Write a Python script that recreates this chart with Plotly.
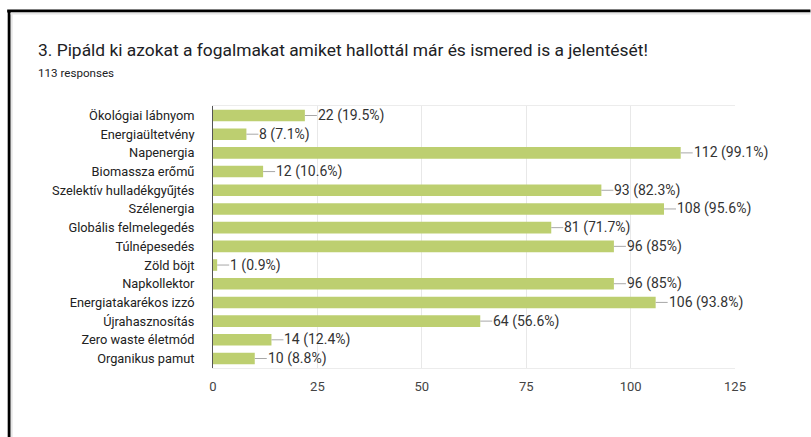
import plotly.graph_objects as go

categories = ["Ökológiai lábnyom", "Energiaültetvény", "Napenergia", "Biomassza erőmű",
              "Szelektív hulladékgyűjtés", "Szélenergia", "Globális felmelegedés", "Túlnépesedés",
              "Zöld böjt", "Napkollektor", "Energiatakarékos izzó", "Újrahasznosítás",
              "Zero waste életmód", "Organikus pamut"]
counts = [22, 8, 112, 12, 93, 108, 81, 96, 1, 96, 106, 64, 14, 10]
percents = ["19.5%", "7.1%", "99.1%", "10.6%", "82.3%", "95.6%", "71.7%", "85%",
            "0.9%", "85%", "93.8%", "56.6%", "12.4%", "8.8%"]
x_ticks = [0, 25, 50, 75, 100, 125]
title = "3. Pipáld ki azokat a fogalmakat amiket hallottál már és ismered is a jelentését!"
subtitle = "113 responses"

# plot area in pixels
L, R, T, B = 213, 735.5, 106, 368
W, H = 811, 437

def px(x):
    return (x - L) / (R - L)

def py(y):
    return (B - y) / (B - T)

FONT = "Roboto, Arial, sans-serif"

fig = go.Figure(go.Bar(
    x=counts, y=categories, orientation="h",
    marker=dict(color="#bdcf70", line=dict(width=0)),
    width=0.62, hoverinfo="skip",
))

annotations = []
for c, v, p in zip(categories, counts, percents):
    annotations.append(dict(
        x=v, y=c, xref="x", yref="y", text=f"{v} ({p})",
        showarrow=True, arrowhead=0, arrowwidth=1, arrowcolor="#a8a8a8",
        ax=12, ay=0, xanchor="left", standoff=0, startstandoff=0,
        borderpad=0, font=dict(family=FONT, size=14, color="#333333"),
    ))

annotations.append(dict(x=px(36), y=py(50), xref="paper", yref="paper", text=title,
                        showarrow=False, xanchor="left", yanchor="middle",
                        font=dict(family=FONT, size=17.4, color="#202124")))
annotations.append(dict(x=px(36), y=py(73), xref="paper", yref="paper", text=subtitle,
                        showarrow=False, xanchor="left", yanchor="middle",
                        font=dict(family=FONT, size=11.6, color="#202124")))

shapes = [
    # frame lines (screenshot border)
    dict(type="line", xref="paper", yref="paper", x0=px(7), x1=px(W), y0=py(11), y1=py(11),
         line=dict(color="#000000", width=3)),
    dict(type="line", xref="paper", yref="paper", x0=px(9), x1=px(9), y0=py(10), y1=py(H),
         line=dict(color="#000000", width=3)),
    dict(type="line", xref="paper", yref="paper", x0=px(10.5), x1=px(W), y0=py(13.5), y1=py(13.5),
         line=dict(color="#e6e6e6", width=2)),
    dict(type="line", xref="paper", yref="paper", x0=px(11.5), x1=px(11.5), y0=py(13), y1=py(H),
         line=dict(color="#e6e6e6", width=2)),
]

fig.update_layout(
    width=W, height=H,
    margin=dict(l=L, r=W - R, t=T, b=H - B, pad=0),
    paper_bgcolor="white", plot_bgcolor="white",
    showlegend=False, bargap=0.38,
    annotations=annotations, shapes=shapes,
    xaxis=dict(range=[0, 125], tickvals=x_ticks, showgrid=True, gridcolor="#e8e8e8",
               gridwidth=1, zeroline=False, showline=True, linecolor="#ececec", mirror=True,
               ticks="", ticklabelstandoff=6,
               tickfont=dict(family=FONT, size=13, color="#444444"),
               fixedrange=True),
    yaxis=dict(categoryorder="array", categoryarray=categories, autorange="reversed",
               showgrid=False, zeroline=False, showline=True, linecolor="#555555", linewidth=1,
               ticks="", ticklabelstandoff=15,
               tickfont=dict(family=FONT, size=12.8, color="#222222"), fixedrange=True),
)

fig.write_html("out.html", config={"displayModeBar": False},
               post_script="document.body.style.margin='0';document.body.style.overflow='hidden';")
